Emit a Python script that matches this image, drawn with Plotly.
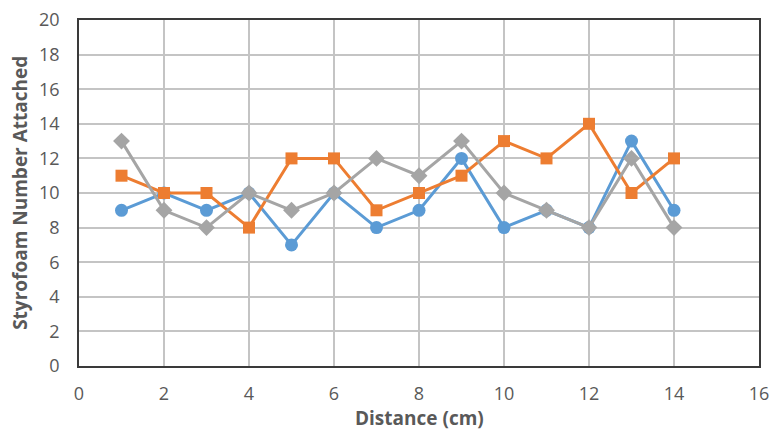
import plotly.graph_objects as go

# Distance (cm) for each trial point
distance = [1, 2, 3, 4, 5, 6, 7, 8, 9, 10, 11, 12, 13, 14]

# Styrofoam pieces attached, three runs
run_blue = [9, 10, 9, 10, 7, 10, 8, 9, 12, 8, 9, 8, 13, 9]
run_orange = [11, 10, 10, 8, 12, 12, 9, 10, 11, 13, 12, 14, 10, 12]
run_gray = [13, 9, 8, 10, 9, 10, 12, 11, 13, 10, 9, 8, 12, 8]

x_ticks = [0, 2, 4, 6, 8, 10, 12, 14, 16]
y_ticks = [0, 2, 4, 6, 8, 10, 12, 14, 16, 18, 20]

x_title = "Distance (cm)"
y_title = "Styrofoam Number Attached"

series = [
    (run_blue, "#5B9BD5", "circle", 13),
    (run_orange, "#ED7D31", "square", 12),
    (run_gray, "#A5A5A5", "diamond", 13),
]

fig = go.Figure()
for values, color, symbol, size in series:
    fig.add_trace(go.Scatter(
        x=distance, y=values, mode="lines+markers",
        line=dict(color=color, width=3),
        marker=dict(color=color, symbol=symbol, size=size, line=dict(width=0)),
        showlegend=False,
    ))

family = "Open Sans, Liberation Sans, sans-serif"
tick_font = dict(family=family, size=18, color="#595959")
title_font = dict(family=family, size=19, color="#595959")

axis_common = dict(
    showgrid=True, gridcolor="#C4C4C4", gridwidth=2,
    showline=True, linecolor="#3A3A3A", linewidth=1.5, mirror=True,
    zeroline=False, tickcolor="rgba(0,0,0,0)", ticks="outside",
    tickfont=tick_font, automargin=False,
)

fig.update_layout(
    width=771, height=433,
    margin=dict(l=79, r=12, t=20, b=67),
    paper_bgcolor="white", plot_bgcolor="white",
    xaxis=dict(range=[0, 16], tickvals=x_ticks, ticktext=[str(v) for v in x_ticks],
               ticklen=11, **axis_common),
    yaxis=dict(range=[0, 20], tickvals=y_ticks, ticktext=[str(v) for v in y_ticks],
               ticklen=14, **axis_common),
    annotations=[
        dict(text=f"<b>{x_title}</b>", font=title_font, showarrow=False, borderpad=0,
             xref="paper", yref="paper", x=0.5, y=-0.192, xanchor="center", yanchor="bottom"),
        dict(text=f"<b>{y_title}</b>", font=title_font, showarrow=False, textangle=-90,
             xref="paper", yref="paper", x=-0.087, y=0.5, xanchor="center", yanchor="middle"),
    ],
)

fig.write_html("out.html")
